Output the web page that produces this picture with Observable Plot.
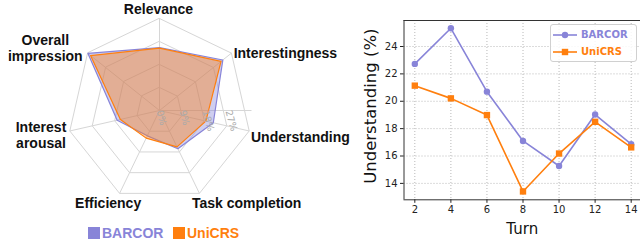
<!DOCTYPE html>
<html><head><meta charset="utf-8">
<script src="https://cdn.jsdelivr.net/npm/d3@7"></script>
<script src="https://cdn.jsdelivr.net/npm/@observablehq/plot@0.6"></script>
<style>
html,body{margin:0;padding:0;background:#fff;}
#root{position:relative;width:640px;height:246px;overflow:hidden;font-family:"Liberation Sans",Arial,sans-serif;}
#root svg.plotsvg{position:absolute;left:0;top:0;}
.lg{position:absolute;white-space:nowrap;}
</style></head><body><div id="root"></div>
<script>
// ---- data ----
const criteria = ["Relevance","Interestingness","Understanding","Task completion","Efficiency","Interest\narousal","Overall\nimpression"];
const barcorRadar = [24.6, 31.7, 21.6, 16.6, 11.0, 17.0, 35.8];
const unicrsRadar = [24.4, 30.8, 18.6, 15.8, 12.0, 15.7, 34.5];
const radarRings = [9, 18, 27, 36];
const radarTickValues = [0, 9, 18, 27];
const radarTickLabels = ["0%", "9%", "18%", "27%"];
const turns = [2, 4, 6, 8, 10, 12, 14];
const barcorUnderstanding = [22.73, 25.33, 20.7, 17.1, 15.27, 19.03, 16.86];
const unicrsUnderstanding = [21.14, 20.21, 18.99, 13.41, 16.18, 18.5, 16.63];
const xTicks = [2, 4, 6, 8, 10, 12, 14];
const yTicks = [14, 16, 18, 20, 22, 24];
const xDomain = [1.4, 14.6];
const yDomain = [12.8, 25.9];
const seriesNames = ["BARCOR", "UniCRS"];

// ---- style ----
const BLUE = "#8884d8", ORANGE = "#ff7f0e";
const W = 640, H = 246;
const cx = 159, cy = 110, R = 92, rMax = 36, K = R / rMax;
const labelLayout = [
  {anchor: "middle", dx: -1, dy: -2},
  {anchor: "start", dx: -4, dy: 5},
  {anchor: "start", dx: -6, dy: 4},
  {anchor: "start", dx: -11, dy: 2},
  {anchor: "middle", dx: -8, dy: 2},
  {anchor: "middle", dx: -21, dy: 2},
  {anchor: "middle", dx: -36, dy: 0}
];
const root = document.getElementById("root");

// ---- radar ----
const n = criteria.length, step = 2 * Math.PI / n;
const P = (v, k) => ({x: v * Math.sin(k * step), y: v * Math.cos(k * step)});
const ringData = radarRings.flatMap(t => criteria.map((_, k) => ({t, ...P(t, k)})));
const spokeData = criteria.map((c, k) => ({c, ...P(rMax, k)}));
const poly = vals => vals.map((v, k) => P(v, k));
const LR = 100 / K;

const radar = Plot.plot({
  width: W, height: H, margin: 0,
  x: {type: "linear", domain: [-cx / K, (W - cx) / K], range: [0, W], axis: null},
  y: {type: "linear", domain: [-(H - cy) / K, cy / K], range: [H, 0], axis: null},
  style: {background: "transparent", overflow: "visible"},
  marks: [
    Plot.line(ringData, {x: "x", y: "y", z: "t", curve: "linear-closed", stroke: "#d6d6d6", strokeWidth: 1}),
    Plot.link(spokeData, {x1: () => 0, y1: () => 0, x2: "x", y2: "y", stroke: "#d6d6d6", strokeWidth: 1}),
    Plot.link([rMax], {x1: () => 0, y1: () => 0, x2: d => d, y2: () => 0, stroke: "#d6d6d6", strokeWidth: 1}),
    Plot.line(poly(barcorRadar), {x: "x", y: "y", curve: "linear-closed", fill: BLUE, fillOpacity: 0.4, stroke: BLUE, strokeWidth: 1.2}),
    Plot.line(poly(unicrsRadar), {x: "x", y: "y", curve: "linear-closed", fill: ORANGE, fillOpacity: 0.4, stroke: ORANGE, strokeWidth: 1.2}),
    Plot.text(radarTickValues, {x: d => d, y: () => 0, text: (d, i) => radarTickLabels[i], rotate: 75, textAnchor: "start", fill: "#aaaaaa", fontSize: 9.5, fontFamily: "DejaVu Sans"}),
    ...criteria.map((c, k) => Plot.text([c], {
      x: () => P(LR, k).x, y: () => P(LR, k).y, text: d => d,
      textAnchor: labelLayout[k].anchor, dx: labelLayout[k].dx, dy: labelLayout[k].dy,
      fontSize: 14, fontWeight: "bold", fontFamily: "Liberation Sans, Arial, sans-serif",
      fill: "#111", lineHeight: 1.15
    }))
  ]
});
radar.classList.add("plotsvg");
root.appendChild(radar);

// ---- line chart ----
const rows = turns.flatMap((t, i) => [
  {turn: t, v: barcorUnderstanding[i], s: seriesNames[0]},
  {turn: t, v: unicrsUnderstanding[i], s: seriesNames[1]}
]);
const bRows = rows.filter(d => d.s === seriesNames[0]);
const uRows = rows.filter(d => d.s === seriesNames[1]);
const chart = Plot.plot({
  width: W, height: H,
  marginLeft: 403.5, marginRight: 0, marginTop: 20, marginBottom: 46.7,
  x: {domain: xDomain, range: [403.5, 641.5]},
  y: {domain: yDomain},
  style: {background: "transparent", overflow: "visible", fontFamily: "DejaVu Sans"},
  marks: [
    Plot.gridX(xTicks, {stroke: "#b8b8b8", strokeOpacity: 1, strokeDasharray: "1,2"}),
    Plot.gridY(yTicks, {stroke: "#b8b8b8", strokeOpacity: 1, strokeDasharray: "1,2"}),
    Plot.ruleX([xDomain[0]], {stroke: "#333", strokeWidth: 1}),
    Plot.ruleY([yDomain[0]], {stroke: "#333", strokeWidth: 1}),
    Plot.ruleY([yDomain[1]], {stroke: "#333", strokeWidth: 1}),
    Plot.axisX(xTicks, {tickSize: 3.5, tickPadding: 3, fontSize: 10, fontFamily: "DejaVu Sans", label: null, color: "#222"}),
    Plot.axisY(yTicks, {anchor: "left", tickSize: 3.5, tickPadding: 3, fontSize: 10, fontFamily: "DejaVu Sans", label: null, color: "#222"}),
    Plot.line(bRows, {x: "turn", y: "v", stroke: BLUE, strokeWidth: 1.6}),
    Plot.dot(bRows, {x: "turn", y: "v", r: 3.2, fill: BLUE}),
    Plot.line(uRows, {x: "turn", y: "v", stroke: ORANGE, strokeWidth: 1.6}),
    Plot.dot(uRows, {x: "turn", y: "v", symbol: "square", r: 3.6, fill: ORANGE}),
    Plot.text(["Turn"], {frameAnchor: "bottom", lineAnchor: "middle", dy: 29, fontSize: 15, fill: "#111", fontFamily: "DejaVu Sans"}),
    Plot.text(["Understanding (%)"], {frameAnchor: "left", textAnchor: "middle", lineAnchor: "middle", rotate: -90, dx: -33, dy: -4, fontSize: 16.5, fill: "#111", fontFamily: "DejaVu Sans"})
  ]
});
chart.classList.add("plotsvg");
root.appendChild(chart);

// ---- legends (HTML) ----
function add(html) { root.insertAdjacentHTML("beforeend", html); }
// radar legend
add(`<div class="lg" style="left:88px;top:227px;width:12px;height:12px;background:${BLUE}"></div>`);
add(`<div class="lg" style="left:102px;top:224px;font:bold 14px 'Liberation Sans',Arial;line-height:18px;color:${BLUE}">${seriesNames[0]}</div>`);
add(`<div class="lg" style="left:173px;top:227px;width:12px;height:12px;background:${ORANGE}"></div>`);
add(`<div class="lg" style="left:187px;top:224px;font:bold 14px 'Liberation Sans',Arial;line-height:18px;color:${ORANGE}">${seriesNames[1]}</div>`);
// line chart legend
add(`<div class="lg" style="left:550px;top:24px;width:85px;height:36px;border:1px solid #d0d0d0;border-radius:3px;background:rgba(255,255,255,0.85)"></div>`);
add(`<svg class="lg" style="left:552px;top:30px" width="26" height="10"><line x1="1" y1="5" x2="25" y2="5" stroke="${BLUE}" stroke-width="1.6"/><circle cx="13" cy="5" r="3.2" fill="${BLUE}"/></svg>`);
add(`<div class="lg" style="left:581px;top:28px;font:bold 10px 'DejaVu Sans';line-height:14px;color:${BLUE}">${seriesNames[0]}</div>`);
add(`<svg class="lg" style="left:552px;top:46.5px" width="26" height="10"><line x1="1" y1="5" x2="25" y2="5" stroke="${ORANGE}" stroke-width="1.6"/><rect x="9.8" y="1.8" width="6.4" height="6.4" fill="${ORANGE}"/></svg>`);
add(`<div class="lg" style="left:581px;top:44.5px;font:bold 10px 'DejaVu Sans';line-height:14px;color:${ORANGE}">${seriesNames[1]}</div>`);
</script></body></html>
